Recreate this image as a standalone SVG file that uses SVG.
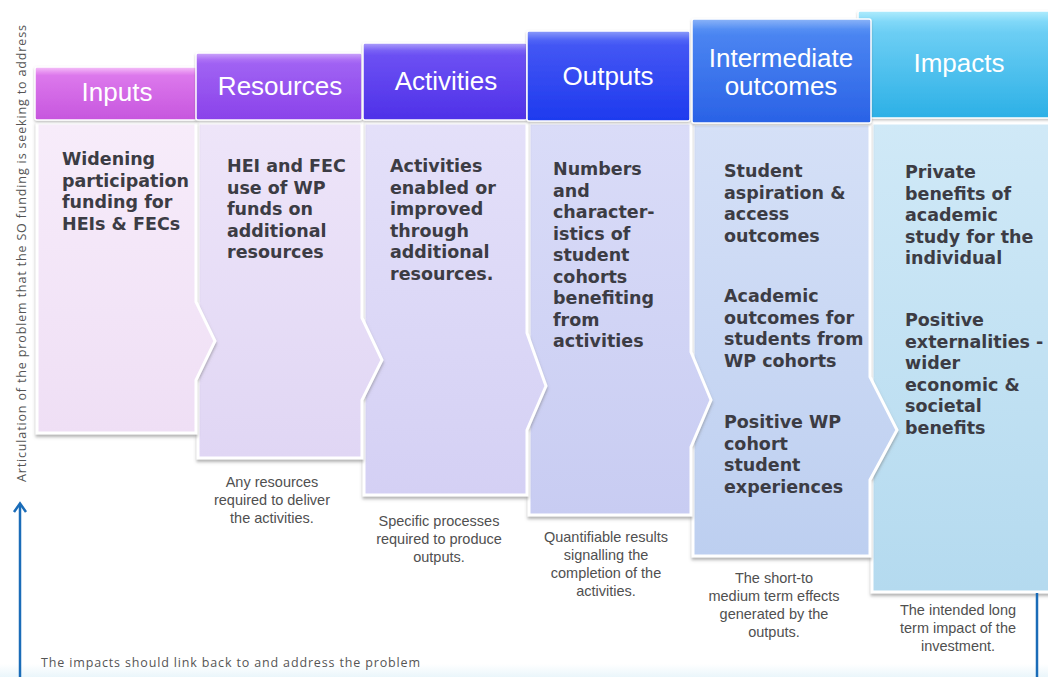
<svg xmlns="http://www.w3.org/2000/svg" width="1048" height="677" viewBox="0 0 1048 677">
<defs>
<style>
.hd{font-family:"Liberation Sans",Arial,sans-serif;font-size:26px;fill:#ffffff;text-anchor:middle}
.bt{font-family:"DejaVu Sans",Verdana,sans-serif;font-weight:bold;font-size:17.5px;fill:#3c3c44}
.fn{font-family:"Liberation Sans",Arial,sans-serif;font-size:14.5px;fill:#505050;text-anchor:middle}
.note{font-family:"Open Sans","DejaVu Sans",sans-serif;font-size:12.5px;fill:#555555}
.body{stroke:#ffffff;stroke-width:3;stroke-linejoin:miter;filter:url(#sh)}
.head{stroke:#ffffff;stroke-width:1.5;filter:url(#sh2)}
.blue{stroke:#1a6cb8;stroke-width:2.5;fill:none}
</style>
<filter id="sh" x="-5%" y="-5%" width="110%" height="110%">
<feDropShadow dx="0" dy="2.5" stdDeviation="1.5" flood-color="#707070" flood-opacity="0.55"/>
</filter>
<filter id="sh2" x="-5%" y="-10%" width="110%" height="125%">
<feDropShadow dx="0" dy="1.5" stdDeviation="1" flood-color="#606060" flood-opacity="0.4"/>
</filter>
<linearGradient id="g1" x1="0" y1="0" x2="0" y2="1"><stop offset="0" stop-color="#f4c2f8"/><stop offset="0.1" stop-color="#e690f0"/><stop offset="0.16" stop-color="#dc78ec"/><stop offset="1" stop-color="#c656de"/></linearGradient>
<linearGradient id="g2" x1="0" y1="0" x2="0" y2="1"><stop offset="0" stop-color="#cca6fa"/><stop offset="0.1" stop-color="#ac70f5"/><stop offset="0.16" stop-color="#a062f3"/><stop offset="1" stop-color="#8a42ea"/></linearGradient>
<linearGradient id="g3" x1="0" y1="0" x2="0" y2="1"><stop offset="0" stop-color="#aea0fa"/><stop offset="0.1" stop-color="#7860f5"/><stop offset="0.16" stop-color="#6c50f3"/><stop offset="1" stop-color="#4e30e8"/></linearGradient>
<linearGradient id="g4" x1="0" y1="0" x2="0" y2="1"><stop offset="0" stop-color="#8c9cfa"/><stop offset="0.1" stop-color="#5064f6"/><stop offset="0.16" stop-color="#4356f4"/><stop offset="1" stop-color="#1e3aee"/></linearGradient>
<linearGradient id="g5" x1="0" y1="0" x2="0" y2="1"><stop offset="0" stop-color="#8cb4f8"/><stop offset="0.1" stop-color="#548ef3"/><stop offset="0.16" stop-color="#4a84f1"/><stop offset="1" stop-color="#2a62e6"/></linearGradient>
<linearGradient id="g6" x1="0" y1="0" x2="0" y2="1"><stop offset="0" stop-color="#b0ecfd"/><stop offset="0.1" stop-color="#80d8f8"/><stop offset="0.2" stop-color="#6ccef4"/><stop offset="1" stop-color="#2cb0e6"/></linearGradient>
<linearGradient id="b1" x1="0" y1="0" x2="0" y2="1"><stop offset="0" stop-color="#f7ecfa"/><stop offset="1" stop-color="#efdff5"/></linearGradient>
<linearGradient id="b2" x1="0" y1="0" x2="0" y2="1"><stop offset="0" stop-color="#eee5f9"/><stop offset="1" stop-color="#e0d6f4"/></linearGradient>
<linearGradient id="b3" x1="0" y1="0" x2="0" y2="1"><stop offset="0" stop-color="#e4e0f9"/><stop offset="1" stop-color="#d4d0f4"/></linearGradient>
<linearGradient id="b4" x1="0" y1="0" x2="0" y2="1"><stop offset="0" stop-color="#dadcf8"/><stop offset="1" stop-color="#c8ccf2"/></linearGradient>
<linearGradient id="b5" x1="0" y1="0" x2="0" y2="1"><stop offset="0" stop-color="#d5e0f7"/><stop offset="1" stop-color="#bdcff0"/></linearGradient>
<linearGradient id="b6" x1="0" y1="0" x2="0" y2="1"><stop offset="0" stop-color="#d0e9f7"/><stop offset="1" stop-color="#b4daef"/></linearGradient>
<linearGradient id="bot" x1="0" y1="0" x2="0" y2="1"><stop offset="0" stop-color="#ffffff"/><stop offset="1" stop-color="#eaf6fb"/></linearGradient>
</defs>
<rect width="1048" height="677" fill="#ffffff"/>
<rect x="0" y="664" width="1048" height="13" fill="url(#bot)"/>

<!-- bodies drawn right to left so chevron points overlay next column -->
<g id="impacts-body">
<polygon class="body" fill="url(#b6)" points="872,123 1052,123 1052,592 872,592"/>
</g>
<g id="intermediate-body">
<polygon class="body" fill="url(#b5)" points="693,124 870,124 870,377 897,430 870,480 870,556 693,556"/>
</g>
<g id="outputs-body">
<polygon class="body" fill="url(#b4)" points="529,123 691,123 691,352 711,400 691,447 691,515 529,515"/>
</g>
<g id="activities-body">
<polygon class="body" fill="url(#b3)" points="364,123 527,123 527,333 546,386 527,430 527,495 364,495"/>
</g>
<g id="resources-body">
<polygon class="body" fill="url(#b2)" points="198,123 362,123 362,318 382,360 362,400 362,458 198,458"/>
</g>
<g id="inputs-body">
<polygon class="body" fill="url(#b1)" points="37,123 196,123 196,302 215,341 196,380 196,433 37,433"/>
</g>

<!-- headers -->
<g id="inputs">
<rect class="head" x="35" y="67" width="162" height="53" rx="2" fill="url(#g1)"/>
<text class="hd" x="117" y="101">Inputs</text>
</g>
<g id="resources">
<rect class="head" x="196" y="53" width="166" height="67" rx="2" fill="url(#g2)"/>
<text class="hd" x="280" y="95">Resources</text>
</g>
<g id="activities">
<rect class="head" x="363" y="43" width="164" height="77" rx="2" fill="url(#g3)"/>
<text class="hd" x="446" y="90">Activities</text>
</g>
<g id="outputs">
<rect class="head" x="527" y="31" width="163" height="90" rx="2" fill="url(#g4)"/>
<text class="hd" x="608" y="85">Outputs</text>
</g>
<g id="impacts">
<rect class="head" x="858" y="11" width="194" height="107" rx="2" fill="url(#g6)"/>
<text class="hd" x="959" y="72">Impacts</text>
</g>
<g id="intermediate-outcomes">
<rect class="head" x="692" y="19" width="179" height="104" rx="2" fill="url(#g5)"/>
<text class="hd" x="781" y="67">Intermediate</text>
<text class="hd" x="781" y="95">outcomes</text>
</g>

<!-- body texts -->
<g id="inputs-text">
<text class="bt" x="62" y="165">Widening</text>
<text class="bt" x="62" y="186.5">participation</text>
<text class="bt" x="62" y="208">funding for</text>
<text class="bt" x="62" y="229.5">HEIs &amp; FECs</text>
</g>
<g id="resources-text">
<text class="bt" x="227" y="172">HEI and FEC</text>
<text class="bt" x="227" y="193.5">use of WP</text>
<text class="bt" x="227" y="215">funds on</text>
<text class="bt" x="227" y="236.5">additional</text>
<text class="bt" x="227" y="258">resources</text>
<text class="fn" x="272" y="487">Any resources</text>
<text class="fn" x="272" y="505">required to deliver</text>
<text class="fn" x="272" y="523">the activities.</text>
</g>
<g id="activities-text">
<text class="bt" x="390" y="172">Activities</text>
<text class="bt" x="390" y="193.5">enabled or</text>
<text class="bt" x="390" y="215">improved</text>
<text class="bt" x="390" y="236.5">through</text>
<text class="bt" x="390" y="258">additional</text>
<text class="bt" x="390" y="279.5">resources.</text>
<text class="fn" x="439" y="526">Specific processes</text>
<text class="fn" x="439" y="544">required to produce</text>
<text class="fn" x="439" y="562">outputs.</text>
</g>
<g id="outputs-text">
<text class="bt" x="553" y="175">Numbers</text>
<text class="bt" x="553" y="196.5">and</text>
<text class="bt" x="553" y="218">character-</text>
<text class="bt" x="553" y="239.5">istics of</text>
<text class="bt" x="553" y="261">student</text>
<text class="bt" x="553" y="282.5">cohorts</text>
<text class="bt" x="553" y="304">benefiting</text>
<text class="bt" x="553" y="325.5">from</text>
<text class="bt" x="553" y="347">activities</text>
<text class="fn" x="606" y="542">Quantifiable results</text>
<text class="fn" x="606" y="560">signalling the</text>
<text class="fn" x="606" y="578">completion of the</text>
<text class="fn" x="606" y="596">activities.</text>
</g>
<g id="intermediate-text">
<text class="bt" x="724" y="177">Student</text>
<text class="bt" x="724" y="198.5">aspiration &amp;</text>
<text class="bt" x="724" y="220">access</text>
<text class="bt" x="724" y="241.5">outcomes</text>
<text class="bt" x="724" y="302">Academic</text>
<text class="bt" x="724" y="323.5">outcomes for</text>
<text class="bt" x="724" y="345">students from</text>
<text class="bt" x="724" y="366.5">WP cohorts</text>
<text class="bt" x="724" y="428">Positive WP</text>
<text class="bt" x="724" y="449.5">cohort</text>
<text class="bt" x="724" y="471">student</text>
<text class="bt" x="724" y="492.5">experiences</text>
<text class="fn" x="774" y="583">The short-to</text>
<text class="fn" x="774" y="601">medium term effects</text>
<text class="fn" x="774" y="619">generated by the</text>
<text class="fn" x="774" y="637">outputs.</text>
</g>
<g id="impacts-text">
<text class="bt" x="905" y="178">Private</text>
<text class="bt" x="905" y="199.5">benefits of</text>
<text class="bt" x="905" y="221">academic</text>
<text class="bt" x="905" y="242.5">study for the</text>
<text class="bt" x="905" y="264">individual</text>
<text class="bt" x="905" y="326">Positive</text>
<text class="bt" x="905" y="347.5">externalities -</text>
<text class="bt" x="905" y="369">wider</text>
<text class="bt" x="905" y="390.5">economic &amp;</text>
<text class="bt" x="905" y="412">societal</text>
<text class="bt" x="905" y="433.5">benefits</text>
<text class="fn" x="958" y="615">The intended long</text>
<text class="fn" x="958" y="633">term impact of the</text>
<text class="fn" x="958" y="651">investment.</text>
</g>

<g id="problem-label">
<text class="note" transform="translate(26,482) rotate(-90)" textLength="457" lengthAdjust="spacing">Articulation of the problem that the SO funding is seeking to address</text>
</g>
<g id="feedback-label">
<text class="note" x="41" y="667" font-size="13.5" textLength="379" lengthAdjust="spacing">The impacts should link back to and address the problem</text>
</g>

<g id="connectors">
<line class="blue" x1="20" y1="677" x2="20" y2="504"/>
<path class="blue" d="M14,512 L20,503.5 L26,512" stroke-linejoin="miter"/>
<line class="blue" x1="1037" y1="593" x2="1037" y2="677"/>
</g>
</svg>
